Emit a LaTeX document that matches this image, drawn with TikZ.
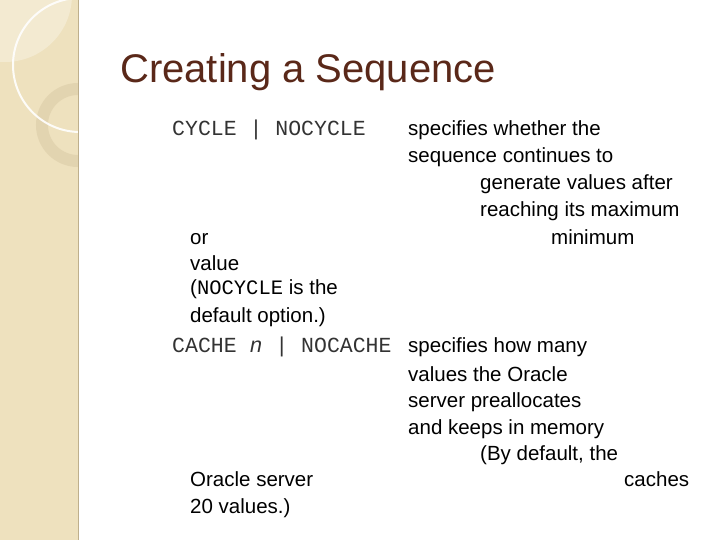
\documentclass[tikz,border=0pt]{standalone}
\usepackage{fontspec}
\setmainfont{Liberation Sans}
\newfontfamily\monof{Liberation Mono}
\begin{document}
\begin{tikzpicture}[x=1pt,y=-1pt,
  t/.style={anchor=base west,inner sep=0pt,font=\fontsize{20.5}{24}\selectfont,text=black},
  m/.style={anchor=base west,inner sep=0pt,font=\fontsize{21.5}{24}\selectfont\monof,text=black!80}]
\useasboundingbox (0,0) rectangle (720,540);
\fill[white] (0,0) rectangle (720,540);
\fill[fill={rgb,255:red,238;green,225;blue,190}] (0,0) rectangle (78,540);
\begin{scope}
\clip (0,0) rectangle (78,540);
\fill[white,opacity=0.3] (5,-5) circle (67);
\draw[line width=12pt,color={rgb,255:red,226;green,212;blue,176}] (78,125) circle (36);
\draw[white,line width=2pt,opacity=0.9] (80,65) circle (67);
\end{scope}
\draw[color={rgb,255:red,190;green,175;blue,140},line width=1pt] (78,0) -- (78,540);
\node[anchor=base west,inner sep=0pt,font=\fontsize{40}{46}\selectfont,text={rgb,255:red,90;green,40;blue,25}] (title) at (120,83) {Creating a Sequence};
\node[m] (c1) at (172,136) {CYCLE | NOCYCLE};
\node[t] (a1) at (408,136) {specifies whether the};
\node[t] (a2) at (408,163) {sequence continues to};
\node[t] (a3) at (480,190) {generate values after};
\node[t] (a4) at (480,217) {reaching its maximum};
\node[t] (a5) at (190,244) {or};
\node[t] (a6) at (551,244) {minimum};
\node[t] (a7) at (190,270) {value};
\node[t] (a8) at (190,294) {(\monof NOCYCLE\rmfamily{} is the};
\node[t] (a9) at (190,322) {default option.)};
\node[m] (c2) at (172,352) {CACHE \textit{n} | NOCACHE};
\node[t] (b1) at (408,352) {specifies how many};
\node[t] (b2) at (408,381) {values the Oracle};
\node[t] (b3) at (408,407) {server preallocates};
\node[t] (b4) at (408,434) {and keeps in memory};
\node[t] (b5) at (480,460) {(By default, the};
\node[t] (b6) at (190,486) {Oracle server};
\node[t] (b7) at (624,486) {caches};
\node[t] (b8) at (190,513) {20 values.)};
\end{tikzpicture}
\end{document}
